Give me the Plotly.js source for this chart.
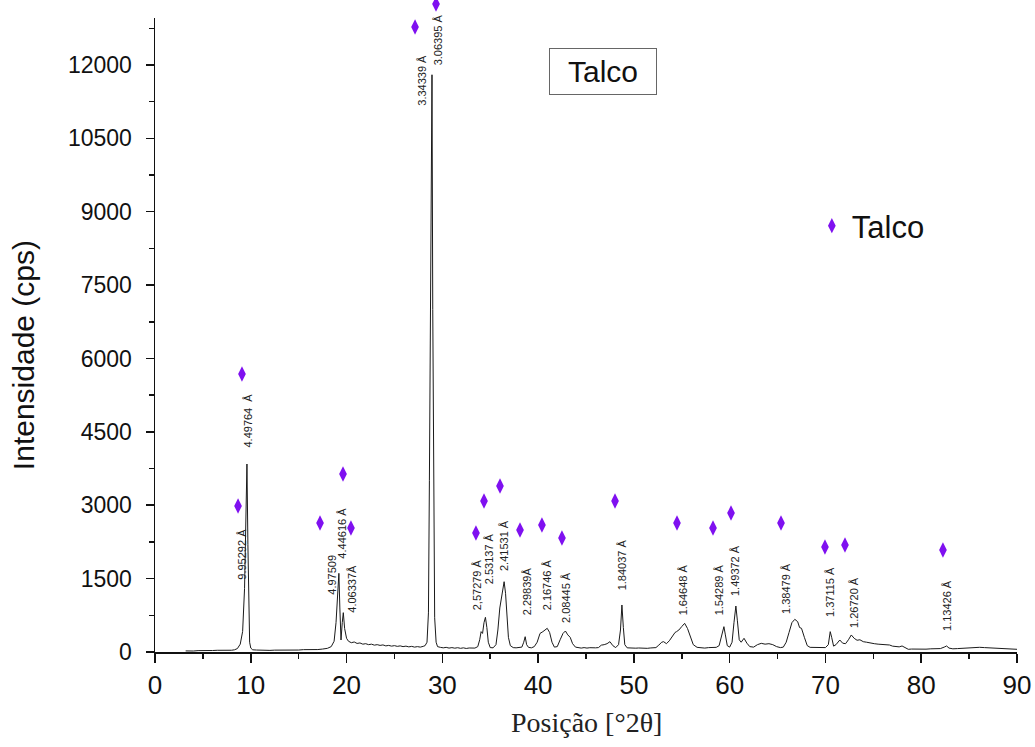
<!DOCTYPE html>
<html>
<head>
<meta charset="utf-8">
<script src="https://cdn.plot.ly/plotly-3.0.1.min.js"></script>
<style>html,body{margin:0;padding:0;background:#fff;}#chart{width:1035px;height:747px;}</style>
</head>
<body>
<div id="chart"></div>
<script>
// XRD pattern (2θ in degrees, intensity in cps)
const twoTheta = [3.2,3.6,4.0,4.5,5.0,5.5,6.0,6.5,7.0,7.5,8.0,8.3,8.6,8.9,9.15,9.35,9.5,9.6,9.7,9.78,9.88,10.0,10.2,10.6,11.0,11.5,12.0,12.5,13.0,13.5,14.0,14.5,15.0,15.5,16.0,16.5,17.0,17.5,18.0,18.4,18.7,18.9,19.05,19.2,19.3,19.42,19.55,19.66,19.8,20.0,20.2,20.5,20.8,21.1,21.4,21.7,22.0,22.3,22.6,22.9,23.2,23.5,23.8,24.1,24.4,24.7,25.0,25.3,25.6,25.9,26.2,26.5,26.8,27.1,27.4,27.7,28.0,28.2,28.4,28.55,28.65,28.75,28.85,28.92,29.0,29.1,29.2,29.35,29.5,29.8,30.1,30.4,30.7,31.0,31.3,31.6,31.9,32.2,32.5,32.8,33.1,33.4,33.7,33.9,34.05,34.2,34.35,34.5,34.65,34.8,35.0,35.3,35.6,35.8,36.0,36.15,36.3,36.45,36.6,36.75,36.9,37.1,37.4,37.7,38.0,38.3,38.5,38.65,38.8,39.0,39.3,39.6,39.9,40.2,40.5,40.75,40.95,41.2,41.45,41.7,42.0,42.3,42.6,42.85,43.1,43.35,43.6,43.9,44.2,44.5,44.8,45.1,45.4,45.7,46.0,46.3,46.6,46.9,47.2,47.5,47.8,48.1,48.4,48.6,48.75,48.9,49.05,49.3,49.6,49.9,50.2,50.5,50.8,51.1,51.4,51.7,52.0,52.3,52.6,52.9,53.1,53.4,53.7,54.0,54.3,54.45,54.7,55.0,55.3,55.6,55.9,56.2,56.6,57.0,57.4,57.8,58.2,58.6,58.9,59.2,59.4,59.55,59.75,60.0,60.25,60.45,60.65,60.8,61.0,61.2,61.5,61.8,62.1,62.5,62.9,63.3,63.7,64.1,64.5,64.9,65.3,65.6,65.9,66.2,66.5,66.8,67.1,67.3,67.5,67.8,68.1,68.4,68.8,69.2,69.6,70.0,70.3,70.5,70.65,70.85,71.1,71.5,71.8,72.1,72.4,72.7,73.0,73.3,73.6,73.95,74.3,74.7,75.1,75.5,75.9,76.3,76.7,77.0,77.4,77.7,78.0,78.3,78.65,79.0,79.5,80.0,80.5,81.0,81.5,82.0,82.4,82.65,82.9,83.3,83.8,84.3,84.8,85.3,85.8,86.1,86.6,87.1,87.6,88.1,88.6,89.1,89.6,90.0];
const intensity = [22,18,20,28,25,32,30,35,33,38,36,45,70,160,420,1300,2900,3843,2200,700,200,80,45,40,35,40,33,38,36,42,38,45,40,48,44,52,50,60,75,110,220,600,1100,1608,900,245,600,804,480,280,220,190,205,175,185,160,170,150,160,140,150,135,145,125,135,120,130,115,125,110,120,105,115,100,110,100,115,130,200,800,3500,6900,10500,11800,7000,2500,700,200,110,95,85,95,80,90,78,88,75,85,72,82,75,80,110,250,416,380,600,709,500,200,90,85,150,450,900,1063,1250,1437,1200,700,300,130,90,85,90,100,200,313,150,95,85,110,200,380,416,450,484,400,200,100,110,250,380,429,350,300,170,100,85,80,90,80,88,80,85,90,140,150,170,211,130,90,150,450,961,500,150,85,80,85,78,82,75,80,75,82,80,90,140,200,211,170,230,330,400,416,450,520,586,480,300,150,95,85,80,90,85,95,130,350,518,350,130,100,200,600,940,650,250,200,280,180,110,100,150,177,160,170,150,110,90,100,200,400,600,668,620,500,484,300,130,95,90,85,95,90,150,416,300,120,150,245,180,170,250,348,280,240,250,211,200,180,170,160,150,140,143,120,115,105,123,90,55,60,55,62,58,65,60,70,100,123,80,65,70,78,85,90,95,96,90,85,80,75,70,65,60,55];

// Talc markers (♦)
const markerX = [8.67,9.08,17.23,19.63,20.46,27.15,29.34,33.51,34.35,36.02,38.11,40.40,42.49,48.03,54.50,58.26,60.14,65.36,69.95,72.04,82.27];
const markerY = [2985,5683,2637,3639,2535,12776,13246,2433,3087,3393,2494,2596,2330,3087,2637,2535,2841,2637,2146,2187,2085];

// Peak d-spacing labels
const labelText = ["4.49764  Å","9.95292 Å","4.97509","4.44616 Å","4.06337Å","3.34339 Å","3.06395 Å","2,57279 Å","2.53137 Å","2.41531 Å","2.29839Å","2.16746 Å","2.08445 Å","1.84037 Å","1.64648 Å","1.54289 Å","1.49372 Å","1.38479 Å","1.37115 Å","1.26720 Å","1.13426 Å"];
const labelX = [9.66,9.05,18.45,19.49,20.54,27.85,29.58,33.65,34.90,36.44,38.87,40.96,42.91,48.79,55.16,58.92,60.56,65.88,70.47,72.98,82.69];
const labelY = [4722,2003,1574,2433,1288,11693,12510,1370,1901,2167,1247,1370,1124,1778,1267,1267,1656,1308,1226,1022,961];

const yTicks = [0,1500,3000,4500,6000,7500,9000,10500,12000];
const yTickText = ["0","1500","3000","4500","6000","7500","9000","10500","12000"];

const Y_MAX = 12960;
const DOMAIN_TOP = 634 / 652;

const traces = [
  {x: twoTheta, y: intensity, type: 'scatter', mode: 'lines',
   line: {color: '#1a1a1a', width: 1}, showlegend: false, hoverinfo: 'skip'},
  {x: markerX, y: markerY, yaxis: 'y2', type: 'scatter', mode: 'markers', name: 'Talco',
   marker: {symbol: 'diamond-tall', size: 11, color: '#7f10f0'}, cliponaxis: false}
];

const sans = 'Liberation Sans, Arial, sans-serif';
const annotations = labelText.map((t, i) => ({
  x: labelX[i], y: labelY[i], xref: 'x', yref: 'y', text: t, showarrow: false,
  textangle: -90, font: {family: sans, size: 11, color: '#222'}
}));
annotations.push({
  xref: 'paper', yref: 'paper', x: 0.5197, y: 0.890, xanchor: 'center', yanchor: 'middle',
  text: 'Talco', showarrow: false,
  font: {family: sans, size: 30, color: '#111'},
  bordercolor: '#666', borderwidth: 1, width: 104, height: 43, bgcolor: '#fff'
});
annotations.push({
  xref: 'paper', yref: 'paper', x: -0.153, y: 0.4555, xanchor: 'center', yanchor: 'middle',
  text: 'Intensidade (cps)', showarrow: false, textangle: -90,
  font: {family: sans, size: 30, color: '#111'}
});
annotations.push({
  xref: 'paper', yref: 'paper', x: 0.5, y: -0.1074, xanchor: 'center', yanchor: 'middle',
  text: 'Posição [°2θ]', showarrow: false,
  font: {family: 'Liberation Serif, Times New Roman, serif', size: 28, color: '#222'}
});

const layout = {
  width: 1035, height: 747,
  margin: {l: 155, r: 18, t: 0, b: 95},
  paper_bgcolor: '#fff', plot_bgcolor: 'rgba(0,0,0,0)',
  font: {family: sans, color: '#111'},
  showlegend: true,
  legend: {x: 0.762, y: 0.6534, xanchor: 'left', yanchor: 'middle', bgcolor: 'rgba(0,0,0,0)',
           font: {size: 31, family: sans, color: '#111'}},
  xaxis: {range: [0, 90], dtick: 10, tick0: 0, showgrid: false, zeroline: false,
          showline: true, linecolor: '#111', linewidth: 1.5, ticks: 'outside', ticklen: 9,
          tickwidth: 1.5, tickcolor: '#111',
          minor: {dtick: 5, ticks: 'outside', ticklen: 5, tickwidth: 1.5, tickcolor: '#111', showgrid: false},
          tickfont: {size: 26, family: sans, color: '#111'}},
  yaxis: {range: [0, Y_MAX], domain: [0, DOMAIN_TOP], tickvals: yTicks, ticktext: yTickText,
          showgrid: false, zeroline: false,
          showline: true, linecolor: '#111', linewidth: 1.5, ticks: 'outside', ticklen: 8,
          tickwidth: 1.5, tickcolor: '#111', ticklabelstandoff: 9,
          minor: {dtick: 750, ticks: 'outside', ticklen: 5, tickwidth: 1.5, tickcolor: '#111', showgrid: false},
          tickfont: {size: 23, family: sans, color: '#111'}},
  yaxis2: {range: [0, Y_MAX / DOMAIN_TOP], domain: [0, 1], anchor: 'x', visible: false,
           showgrid: false, zeroline: false},
  annotations: annotations
};

Plotly.newPlot('chart', traces, layout, {staticPlot: true, displayModeBar: false});
</script>
</body>
</html>
